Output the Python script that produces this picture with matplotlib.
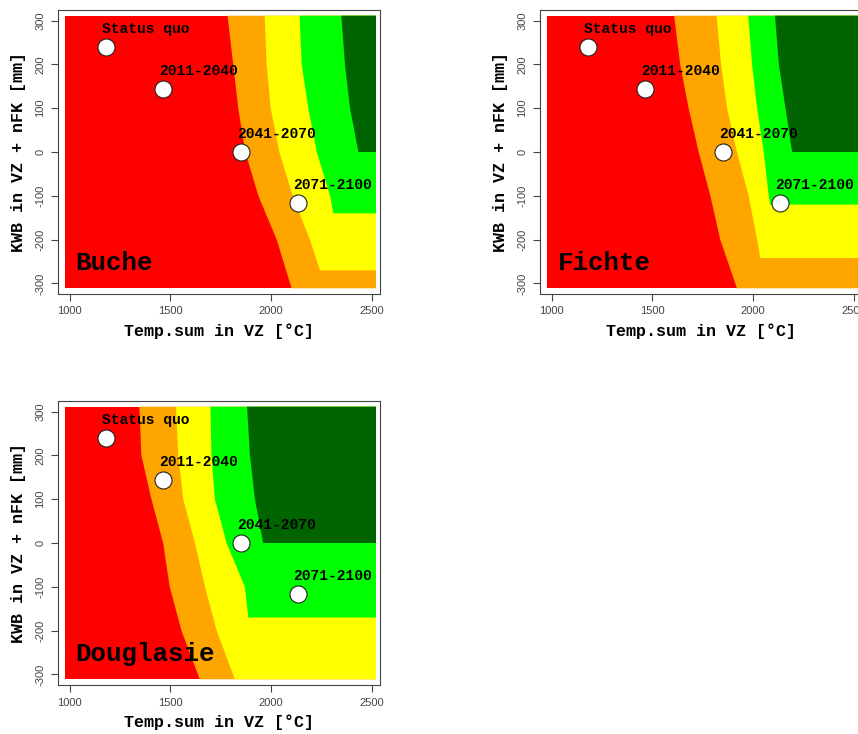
import numpy as np
import matplotlib.pyplot as plt

# Klimaperioden (Punkte)
periods = ['Status quo', '2011-2040', '2041-2070', '2071-2100']
temp_sum = [1182, 1464, 1850, 2132]
kwb = [240, 144, 0, -116]

# Klassenfarben von schlecht nach gut
class_colors = ['#FF0000', '#FFA500', '#FFFF00', '#00FF00', '#006400']

# Klassengrenzen je Baumart: (y-Werte, x-Werte) von oben nach unten
buche_bounds = [
    ([311, 200, 100, 0, -100, -200, -311], [1784, 1812, 1837, 1872, 1937, 2028, 2102]),
    ([311, 200, 100, 0, -100, -200, -270], [1968, 1978, 1998, 2041, 2107, 2193, 2243]),
    ([311, 200, 100, 0, -100, -140], [2142, 2152, 2185, 2227, 2293, 2309]),
    ([311, 200, 100, 0], [2349, 2367, 2392, 2434]),
]
fichte_bounds = [
    ([311, 200, 100, 0, -100, -200, -311], [1608, 1638, 1680, 1730, 1788, 1837, 1920]),
    ([311, 200, 100, 0, -100, -200, -242], [1819, 1841, 1871, 1920, 1978, 2020, 2036]),
    ([311, 200, 100, 0, -100, -120], [1976, 1995, 2020, 2053, 2078, 2085]),
    ([311, 200, 100, 0], [2109, 2128, 2161, 2194]),
]
douglasie_bounds = [
    ([311, 200, 100, 0, -100, -200, -311], [1346, 1356, 1406, 1464, 1497, 1555, 1646]),
    ([311, 200, 100, 0, -100, -200, -311], [1528, 1539, 1564, 1622, 1672, 1730, 1820]),
    ([311, 200, 100, 0, -100, -170], [1699, 1704, 1721, 1779, 1870, 1887]),
    ([311, 200, 100, 0], [1881, 1895, 1920, 1961]),
]

species = ['Buche', 'Fichte', 'Douglasie']
all_bounds = [buche_bounds, fichte_bounds, douglasie_bounds]

x_ticks = [1000, 1500, 2000, 2500]
y_ticks = [-300, -200, -100, 0, 100, 200, 300]

mono = 'Liberation Mono'
sans = 'Liberation Sans'

W, H = 858, 734
fig = plt.figure(figsize=(W / 100, H / 100), dpi=100)

# Achsenpositionen in Pixel (links, oben, rechts, unten)
boxes = [(58, 10, 380, 294), (540, 10, 862, 294), (58, 401, 380, 685)]

x0, x1, y0, y1 = 979, 2521, -311, 311

for name, bounds, (l, t, r, b) in zip(species, all_bounds, boxes):
    ax = fig.add_axes([l / W, 1 - b / H, (r - l) / W, (b - t) / H])
    ax.fill([x0, x1, x1, x0], [y1, y1, y0, y0], color=class_colors[0], lw=0)
    for k, (ys, xs) in enumerate(bounds):
        px = list(xs) + [x1, x1]
        py = list(ys) + [ys[-1], ys[0]]
        ax.fill(px, py, color=class_colors[k + 1], lw=0)

    ax.scatter(temp_sum, kwb, s=150, c='white', edgecolors='#222222', linewidths=0.8, zorder=5)
    for px_, py_, lab in zip(temp_sum, kwb, periods):
        ax.text(px_ - 20, py_ + 31, lab, family=mono, weight='bold', fontsize=10.5,
                ha='left', va='baseline', zorder=6)
    ax.text(1030, -270, name, family=mono, weight='bold', fontsize=18.5,
            ha='left', va='baseline', zorder=6)

    ax.set_xlim(942, 2541)
    ax.set_ylim(-324, 324)
    ax.set_xticks(x_ticks)
    ax.set_yticks(y_ticks)
    ax.set_xticklabels([str(v) for v in x_ticks], family=sans, fontsize=8, color='#444444')
    ax.set_yticklabels([str(v) for v in y_ticks], family=sans, fontsize=8, color='#444444',
                       rotation=90, va='center')
    ax.tick_params(direction='out', length=5, width=0.8, color='#444444', pad=4)
    for sp in ax.spines.values():
        sp.set_color('#444444')
        sp.set_linewidth(0.8)
    ax.set_xlabel('Temp.sum in VZ [°C]', family=mono, weight='bold', fontsize=12, labelpad=5)
    ax.set_ylabel('KWB in VZ + nFK [mm]', family=mono, weight='bold', fontsize=12, labelpad=7)

fig.savefig('out.png', dpi=100)
